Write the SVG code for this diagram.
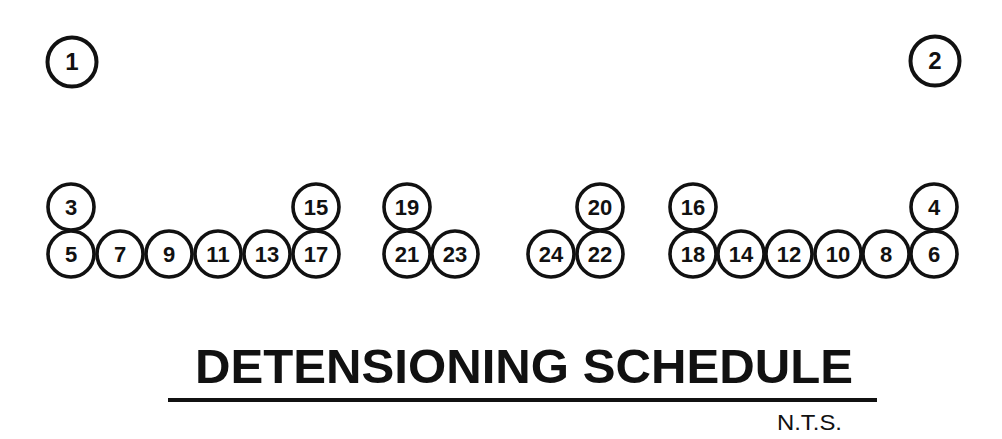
<svg xmlns="http://www.w3.org/2000/svg" width="1002" height="439" viewBox="0 0 1002 439">
<style>
.c{fill:#fff;stroke:#111;stroke-width:3.6}
.big{fill:#fff;stroke:#111;stroke-width:4}
.n{font-family:"Liberation Sans",Arial,sans-serif;font-weight:bold;font-size:22px;fill:#111;text-anchor:middle}
.nb{font-family:"Liberation Sans",Arial,sans-serif;font-weight:bold;font-size:24px;fill:#111;text-anchor:middle}
.title{font-family:"Liberation Sans",Arial,sans-serif;font-weight:bold;font-size:49px;fill:#111}
.nts{font-family:"Liberation Sans",Arial,sans-serif;font-size:22px;fill:#111}
</style>
<rect width="1002" height="439" fill="#fff"/>
<g id="connectors"></g>
<g id="n1"><circle class="big" cx="72" cy="62" r="24.5"/><text class="nb" x="72" y="70">1</text></g>
<g id="n2"><circle class="big" cx="935" cy="61" r="24.5"/><text class="nb" x="935" y="69">2</text></g>
<g id="n3"><circle class="c" cx="71" cy="207" r="23"/><text class="n" x="71" y="215">3</text></g>
<g id="n15"><circle class="c" cx="316" cy="207" r="23"/><text class="n" x="316" y="215">15</text></g>
<g id="n5"><circle class="c" cx="71" cy="254" r="23"/><text class="n" x="71" y="262">5</text></g>
<g id="n7"><circle class="c" cx="120" cy="254" r="23"/><text class="n" x="120" y="262">7</text></g>
<g id="n9"><circle class="c" cx="169" cy="254" r="23"/><text class="n" x="169" y="262">9</text></g>
<g id="n11"><circle class="c" cx="218" cy="254" r="23"/><text class="n" x="218" y="262">11</text></g>
<g id="n13"><circle class="c" cx="267" cy="254" r="23"/><text class="n" x="267" y="262">13</text></g>
<g id="n17"><circle class="c" cx="316" cy="254" r="23"/><text class="n" x="316" y="262">17</text></g>
<g id="n19"><circle class="c" cx="407" cy="207" r="23"/><text class="n" x="407" y="215">19</text></g>
<g id="n21"><circle class="c" cx="407" cy="254" r="23"/><text class="n" x="407" y="262">21</text></g>
<g id="n23"><circle class="c" cx="455" cy="254" r="23"/><text class="n" x="455" y="262">23</text></g>
<g id="n24"><circle class="c" cx="551" cy="254" r="23"/><text class="n" x="551" y="262">24</text></g>
<g id="n22"><circle class="c" cx="600" cy="254" r="23"/><text class="n" x="600" y="262">22</text></g>
<g id="n20"><circle class="c" cx="600" cy="207" r="23"/><text class="n" x="600" y="215">20</text></g>
<g id="n16"><circle class="c" cx="693" cy="207" r="23"/><text class="n" x="693" y="215">16</text></g>
<g id="n4"><circle class="c" cx="934" cy="207" r="23"/><text class="n" x="934" y="215">4</text></g>
<g id="n18"><circle class="c" cx="693" cy="254" r="23"/><text class="n" x="693" y="262">18</text></g>
<g id="n14"><circle class="c" cx="741" cy="254" r="23"/><text class="n" x="741" y="262">14</text></g>
<g id="n12"><circle class="c" cx="789" cy="254" r="23"/><text class="n" x="789" y="262">12</text></g>
<g id="n10"><circle class="c" cx="838" cy="254" r="23"/><text class="n" x="838" y="262">10</text></g>
<g id="n8"><circle class="c" cx="886" cy="254" r="23"/><text class="n" x="886" y="262">8</text></g>
<g id="n6"><circle class="c" cx="934" cy="254" r="23"/><text class="n" x="934" y="262">6</text></g>
<g id="title">
<text class="title" x="195" y="383" textLength="658" lengthAdjust="spacingAndGlyphs">DETENSIONING SCHEDULE</text>
<line x1="168" y1="400" x2="877" y2="400" stroke="#111" stroke-width="4"/>
<text class="nts" x="777" y="430" textLength="65" lengthAdjust="spacingAndGlyphs">N.T.S.</text>
</g>
</svg>
